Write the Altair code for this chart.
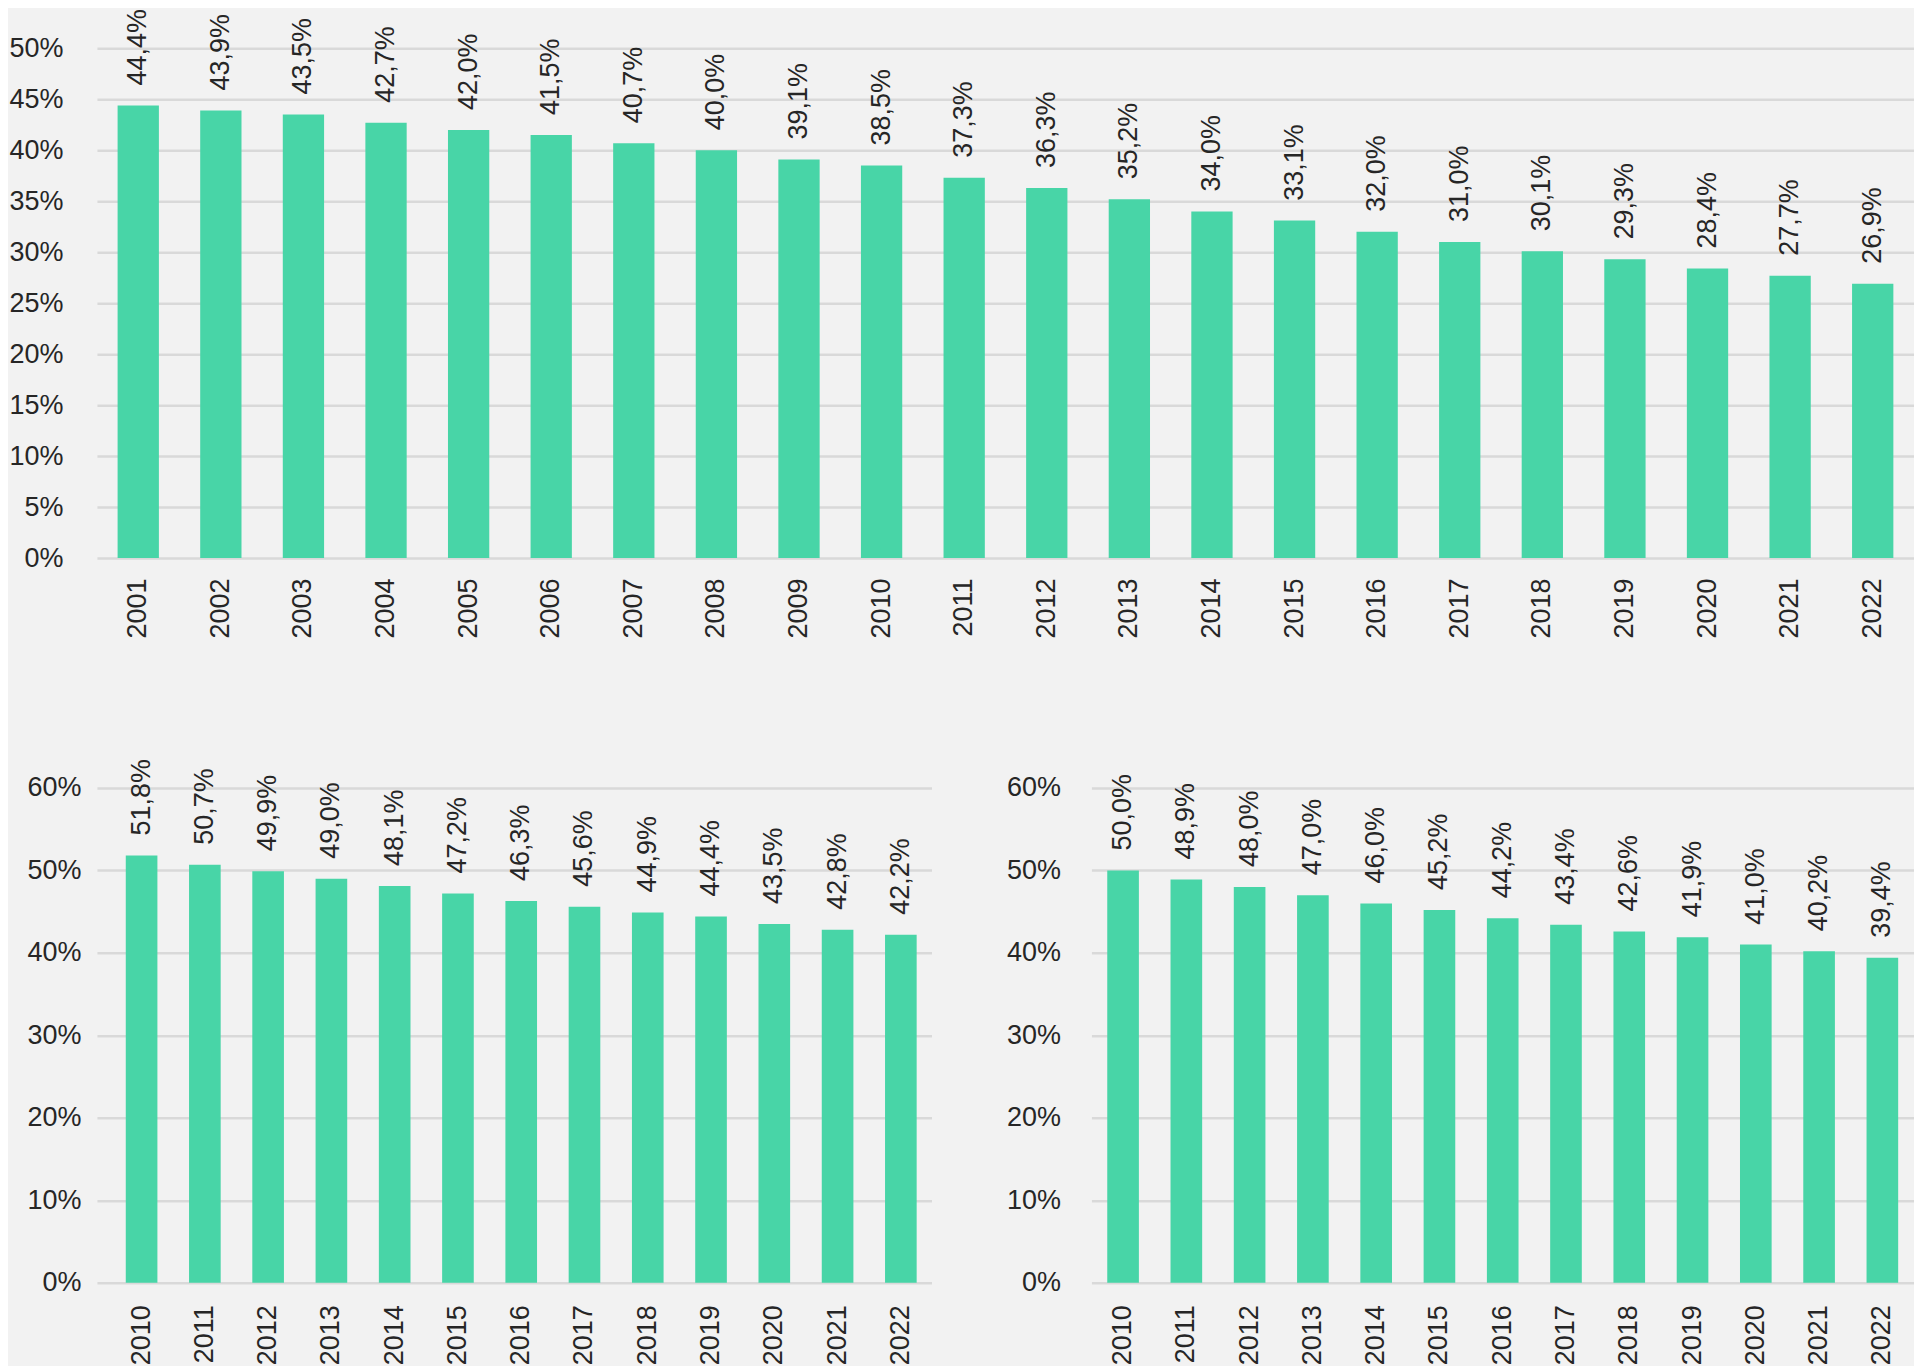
import altair as alt
import pandas as pd

# ---- data ----
TOP_YEARS = ["2001", "2002", "2003", "2004", "2005", "2006", "2007", "2008", "2009", "2010", "2011",
             "2012", "2013", "2014", "2015", "2016", "2017", "2018", "2019", "2020", "2021", "2022"]
TOP_VALUES = [44.4, 43.9, 43.5, 42.7, 42.0, 41.5, 40.7, 40.0, 39.1, 38.5, 37.3,
              36.3, 35.2, 34.0, 33.1, 32.0, 31.0, 30.1, 29.3, 28.4, 27.7, 26.9]

BOTTOM_YEARS = ["2010", "2011", "2012", "2013", "2014", "2015", "2016",
                "2017", "2018", "2019", "2020", "2021", "2022"]
LEFT_VALUES = [51.8, 50.7, 49.9, 49.0, 48.1, 47.2, 46.3, 45.6, 44.9, 44.4, 43.5, 42.8, 42.2]
RIGHT_VALUES = [50.0, 48.9, 48.0, 47.0, 46.0, 45.2, 44.2, 43.4, 42.6, 41.9, 41.0, 40.2, 39.4]

TOP_TICKS = [0, 5, 10, 15, 20, 25, 30, 35, 40, 45, 50]
BOTTOM_TICKS = [0, 10, 20, 30, 40, 50, 60]

# ---- style ----
FONT = "Liberation Sans"
FS = 27
BAR = "#48d5a7"
GRID = "#d9d9d9"
TXT = "#262626"
BG = "#f2f2f2"


def panel(years, values, ymax, ticks, width, height, ypad, xpad,
          pad_outer=0.25, band_align=0.5):
    df = pd.DataFrame({"year": years, "value": values})
    x = alt.X(
        "year:N", sort=None,
        scale=alt.Scale(paddingInner=0.5, paddingOuter=pad_outer, align=band_align),
        axis=alt.Axis(title=None, labelAngle=270, labelAlign="right", labelBaseline="middle",
                      labelPadding=xpad, ticks=False, domain=False, grid=False,
                      labelFont=FONT, labelFontSize=FS, labelColor=TXT),
    )
    y = alt.Y(
        "value:Q",
        scale=alt.Scale(domain=[0, ymax], nice=False, zero=True),
        axis=alt.Axis(title=None, values=ticks, labelExpr="datum.value + '%'",
                      grid=True, gridColor=GRID, gridWidth=2.5, domain=False, ticks=False,
                      labelPadding=ypad, minExtent=88, labelFont=FONT,
                      labelFontSize=FS, labelColor=TXT),
    )
    base = alt.Chart(df).encode(x=x, y=y)
    bars = base.mark_bar(color=BAR)
    labels = base.transform_calculate(
        label="replace(format(datum.value, '.1f'), '.', ',') + '%'"
    ).mark_text(angle=270, align="left", baseline="middle", dx=20,
                font=FONT, fontSize=FS, color=TXT).encode(text="label:N")
    return alt.layer(bars, labels).properties(width=width, height=height)


top = panel(TOP_YEARS, TOP_VALUES, 50, TOP_TICKS, 1818, 510, 34, 20)
left = panel(BOTTOM_YEARS, LEFT_VALUES, 60, BOTTOM_TICKS, 835, 495, 16, 22,
             pad_outer=0.345, band_align=0.66)
right = panel(BOTTOM_YEARS, RIGHT_VALUES, 60, BOTTOM_TICKS, 823, 495, 31, 22)

bottom = alt.hconcat(left, right, spacing=72)
chart = alt.vconcat(top, bottom, spacing=120).properties(
    background=BG, padding=0
).configure_view(stroke=None)

chart.save("out.html", embed_options={"renderer": "svg", "actions": False})
